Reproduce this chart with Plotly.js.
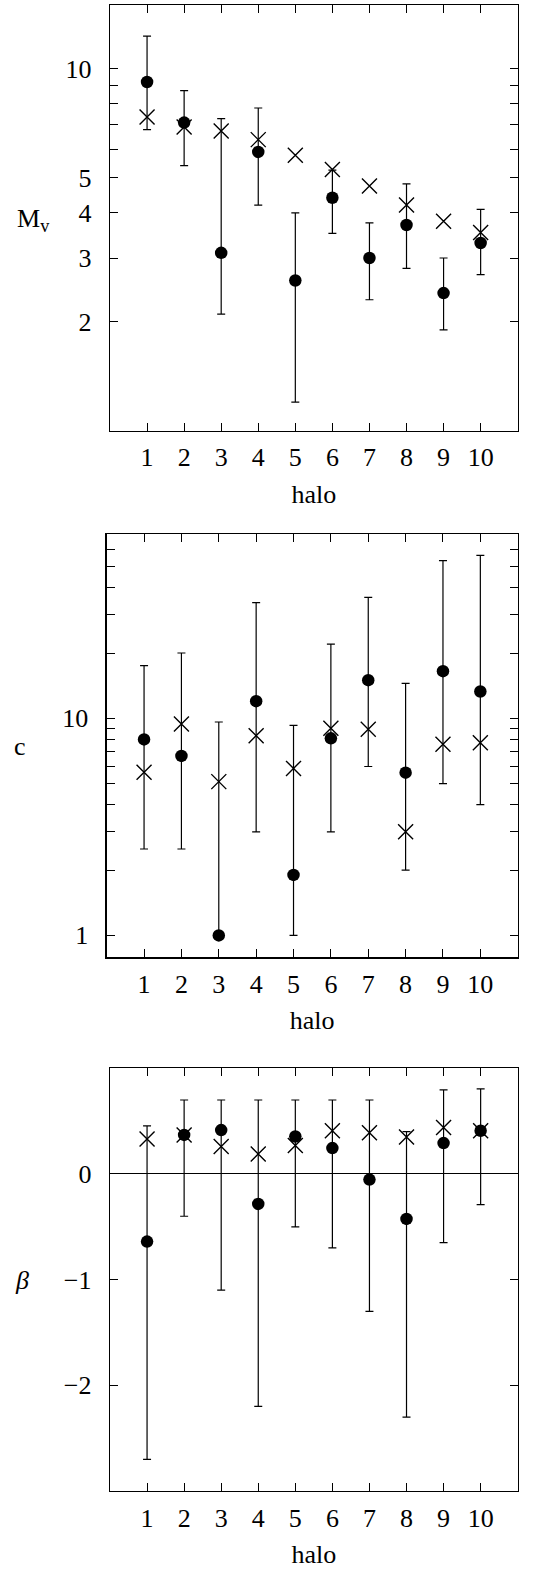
<!DOCTYPE html>
<html>
<head>
<meta charset="utf-8">
<script src="https://cdn.plot.ly/plotly-3.0.1.min.js"></script>
<style>html,body{margin:0;padding:0;background:#fff;}</style>
</head>
<body>
<div id="chart" style="width:545px;height:1575px;"></div>
<script>
const halos = [1, 2, 3, 4, 5, 6, 7, 8, 9, 10];

// Panel 1: M_v (fit with error range, and true value)
const mvFit  = [9.19, 7.10, 3.10, 5.89, 2.60, 4.40, 3.00, 3.70, 2.40, 3.30];
const mvHi   = [12.3, 8.70, 7.28, 7.79, 4.00, 5.25, 3.75, 4.81, 3.00, 4.09];
const mvLo   = [6.79, 5.40, 2.10, 4.20, 1.20, 3.51, 2.30, 2.81, 1.90, 2.70];
const mvTrue = [7.36, 6.90, 6.73, 6.37, 5.77, 5.27, 4.74, 4.20, 3.79, 3.53];

// Panel 2: c
const cFit  = [8.0, 6.71, 1.0, 12.0, 1.90, 8.09, 15.0, 5.62, 16.5, 13.3];
const cHi   = [17.5, 20.0, 9.62, 34.1, 9.28, 22.0, 36.1, 14.5, 53.3, 56.4];
const cLo   = [2.5, 2.5, 1.0, 3.0, 1.0, 3.0, 6.0, 2.0, 5.0, 4.0];
const cTrue = [5.64, 9.42, 5.11, 8.32, 5.88, 9.0, 8.90, 3.0, 7.59, 7.72];

// Panel 3: beta
const bFit  = [-0.64, 0.37, 0.415, -0.283, 0.355, 0.245, -0.053, -0.425, 0.292, 0.409];
const bHi   = [0.456, 0.70, 0.70, 0.70, 0.70, 0.70, 0.70, 0.40, 0.796, 0.805];
const bLo   = [-2.70, -0.40, -1.10, -2.20, -0.50, -0.70, -1.30, -2.30, -0.65, -0.29];
const bTrue = [0.33, 0.37, 0.26, 0.19, 0.27, 0.41, 0.39, 0.35, 0.44, 0.41];

// tick labels
const xTickVals = halos;
const xTickText = halos.map(String);
const mvTickVals = [2, 3, 4, 5, 10];
const mvTickText = ['2', '3', '4', '5', '10'];
const mvMinorVals = [6, 7, 8, 9];
const cTickVals = [1, 10];
const cTickText = ['1', '10'];
const cMinorVals = [2, 3, 4, 5, 6, 7, 8, 9, 20, 30, 40, 50, 60];
const bTickVals = [-2, -1, 0];
const bTickText = ['\u22122', '\u22121', '0'];

const FONT = '"Liberation Serif", "Times New Roman", serif';

function errs(val, hi, lo) {
  return {
    type: 'data', symmetric: false,
    array: hi.map((h, i) => h - val[i]),
    arrayminus: lo.map((l, i) => val[i] - l),
    color: '#000', thickness: 1.2, width: 4
  };
}

function pair(fit, hi, lo, tru, xa, ya) {
  return [
    { x: halos, y: tru, xaxis: xa, yaxis: ya, type: 'scatter', mode: 'markers',
      marker: { symbol: 'x-thin-open', size: 15, color: '#000', line: { color: '#000', width: 1.4 } },
      showlegend: false, hoverinfo: 'skip' },
    { x: halos, y: fit, xaxis: xa, yaxis: ya, type: 'scatter', mode: 'markers',
      marker: { symbol: 'circle', size: 12.5, color: '#000' },
      error_y: errs(fit, hi, lo), showlegend: false, hoverinfo: 'skip' }
  ];
}

const data = [].concat(
  pair(mvFit, mvHi, mvLo, mvTrue, 'x', 'y'),
  pair(cFit, cHi, cLo, cTrue, 'x2', 'y2'),
  pair(bFit, bHi, bLo, bTrue, 'x3', 'y3')
);

function xax(dom, anchor) {
  return {
    domain: dom, anchor: anchor, range: [0, 11],
    tickmode: 'array', tickvals: xTickVals, ticktext: xTickText,
    ticks: 'inside', ticklen: 8, tickwidth: 1, tickcolor: '#000',
    mirror: 'allticks', showline: true, linecolor: '#000', linewidth: 1.3,
    showgrid: false, zeroline: false,
    tickfont: { family: FONT, size: 26, color: '#000' },
    ticklabelstandoff: 3,
    title: { text: 'halo', font: { family: FONT, size: 26, color: '#000' }, standoff: 13 }
  };
}
function yax(dom, anchor, extra, minorVals) {
  const ax = Object.assign({
    domain: dom, anchor: anchor,
    tickmode: 'array',
    ticks: 'inside', ticklen: 8, tickwidth: 1, tickcolor: '#000',
    mirror: 'allticks', showline: true, linecolor: '#000', linewidth: 1.3,
    showgrid: false, zeroline: false,
    tickfont: { family: FONT, size: 26, color: '#000' },
    ticklabelstandoff: 12
  }, extra);
  if (minorVals) {
    ax.minor = { tickmode: 'array', tickvals: minorVals, ticks: 'inside', ticklen: 8,
                 tickwidth: 1, tickcolor: '#000', showgrid: false };
  }
  return ax;
}

const layout = {
  width: 545, height: 1575,
  margin: { l: 0, r: 0, t: 0, b: 0 },
  paper_bgcolor: '#fff', plot_bgcolor: '#fff',
  font: { family: FONT, color: '#000' },
  showlegend: false,
  xaxis:  xax([110 / 545, 517.7 / 545], 'y'),
  xaxis2: xax([106.7 / 545, 517.7 / 545], 'y2'),
  xaxis3: xax([110 / 545, 517.7 / 545], 'y3'),
  yaxis:  yax([1 - 430.7 / 1575, 1 - 5 / 1575], 'x',
              { type: 'log', range: [0, Math.log10(15)], tickvals: mvTickVals, ticktext: mvTickText }, mvMinorVals),
  yaxis2: yax([1 - 957.3 / 1575, 1 - 534.3 / 1575], 'x2',
              { type: 'log', range: [-0.101, 1.848], tickvals: cTickVals, ticktext: cTickText }, cMinorVals),
  yaxis3: yax([1 - 1491 / 1575, 1 - 1068.3 / 1575], 'x3',
              { range: [-3, 1], tickvals: bTickVals, ticktext: bTickText,
                zeroline: true, zerolinecolor: '#000', zerolinewidth: 1 }, null),
  annotations: [
    { text: 'M<sub>v</sub>', xref: 'paper', yref: 'paper', x: 33 / 545, y: 1 - 220 / 1575,
      showarrow: false, xanchor: 'center', yanchor: 'middle', font: { family: FONT, size: 26, color: '#000' } },
    { text: 'c', xref: 'paper', yref: 'paper', x: 20 / 545, y: 1 - 746 / 1575,
      showarrow: false, xanchor: 'center', yanchor: 'middle', font: { family: FONT, size: 26, color: '#000' } },
    { text: '<i>\u03b2</i>', xref: 'paper', yref: 'paper', x: 22 / 545, y: 1 - 1280 / 1575,
      showarrow: false, xanchor: 'center', yanchor: 'middle', font: { family: FONT, size: 26, color: '#000' } }
  ]
};

Plotly.newPlot('chart', data, layout, { staticPlot: true, displayModeBar: false });
</script>
</body>
</html>
